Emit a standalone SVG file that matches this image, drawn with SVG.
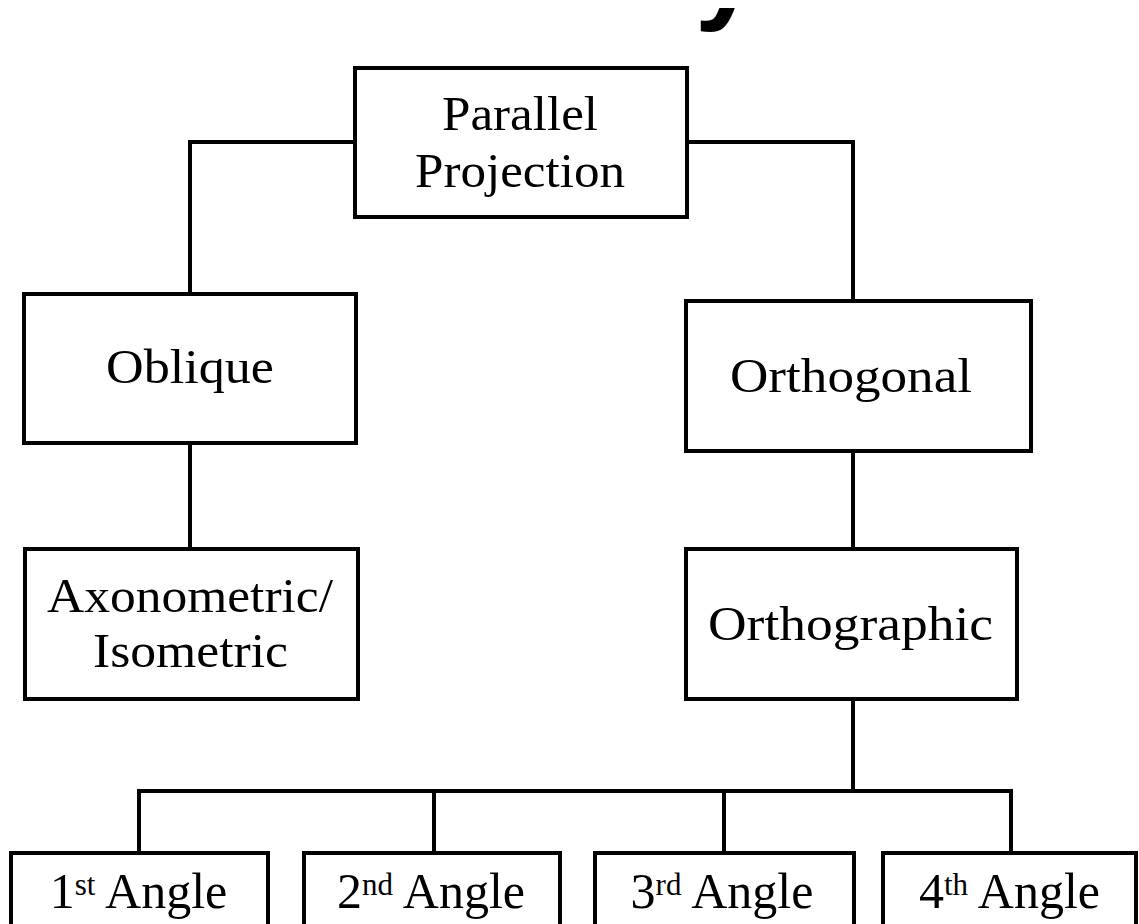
<svg xmlns="http://www.w3.org/2000/svg" width="1139" height="924" viewBox="0 0 1139 924">
<style>
.box{fill:#fff;stroke:#000;stroke-width:4}
.con{fill:none;stroke:#000;stroke-width:4}
.lbl{font-family:"Liberation Serif","Times New Roman",serif;font-size:48px;fill:#000;text-anchor:middle}
.bl{font-family:"Liberation Serif","Times New Roman",serif;font-size:50px;fill:#000;text-anchor:middle}
.sup{font-size:31px}
</style>
<defs>
<clipPath id="topclip"><rect x="600" y="8" width="200" height="40"/></clipPath>
</defs>
<rect width="1139" height="924" fill="#fff"/>
<g id="title-fragment" clip-path="url(#topclip)">
<text x="695" y="9" font-family="Liberation Sans, Arial, sans-serif" font-weight="bold" font-size="112" fill="#000">y</text>
</g>
<g id="connectors">
<path class="con" d="M355 142 H190 V294"/>
<path class="con" d="M687 142 H853 V301"/>
<path class="con" d="M190 443 V549"/>
<path class="con" d="M853 451 V549"/>
<path class="con" d="M853 699 V791"/>
<path class="con" d="M139 853 V791 H1011 V853"/>
<path class="con" d="M434 791 V853"/>
<path class="con" d="M724 791 V853"/>
</g>
<g id="parallel">
<rect class="box" x="355" y="68" width="332" height="149"/>
<text class="lbl" x="520" y="130" textLength="156" lengthAdjust="spacingAndGlyphs">Parallel</text>
<text class="lbl" x="520" y="187" textLength="210" lengthAdjust="spacingAndGlyphs">Projection</text>
</g>
<g id="oblique">
<rect class="box" x="24" y="294" width="332" height="149"/>
<text class="lbl" x="190" y="383" textLength="168" lengthAdjust="spacingAndGlyphs">Oblique</text>
</g>
<g id="orthogonal">
<rect class="box" x="686" y="301" width="345" height="150"/>
<text class="lbl" x="851" y="392" textLength="242" lengthAdjust="spacingAndGlyphs">Orthogonal</text>
</g>
<g id="axonometric">
<rect class="box" x="25" y="549" width="333" height="150"/>
<text class="lbl" x="190" y="612" textLength="286" lengthAdjust="spacingAndGlyphs">Axonometric/</text>
<text class="lbl" x="190.5" y="667" textLength="195" lengthAdjust="spacingAndGlyphs">Isometric</text>
</g>
<g id="orthographic">
<rect class="box" x="686" y="549" width="331" height="150"/>
<text class="lbl" x="850.5" y="640" textLength="285" lengthAdjust="spacingAndGlyphs">Orthographic</text>
</g>
<g id="angle1">
<rect class="box" x="11" y="853" width="257" height="90"/>
<text class="bl" x="138.5" y="908">1<tspan class="sup" dy="-13">st</tspan><tspan dy="13"> Angle</tspan></text>
</g>
<g id="angle2">
<rect class="box" x="304" y="853" width="256" height="90"/>
<text class="bl" x="431" y="908">2<tspan class="sup" dy="-13">nd</tspan><tspan dy="13"> Angle</tspan></text>
</g>
<g id="angle3">
<rect class="box" x="595" y="853" width="259" height="90"/>
<text class="bl" x="722" y="908">3<tspan class="sup" dy="-13">rd</tspan><tspan dy="13"> Angle</tspan></text>
</g>
<g id="angle4">
<rect class="box" x="883" y="853" width="253" height="90"/>
<text class="bl" x="1009.5" y="908">4<tspan class="sup" dy="-13">th</tspan><tspan dy="13"> Angle</tspan></text>
</g>
</svg>
